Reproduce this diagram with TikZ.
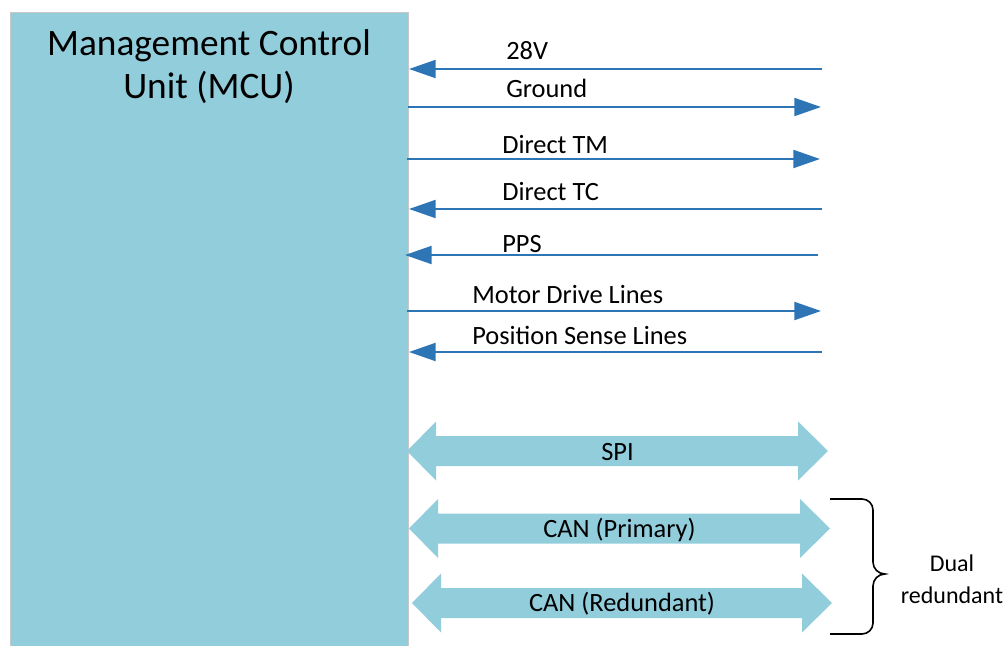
\documentclass[tikz,border=0pt]{standalone}
\usepackage{fontspec}
\setmainfont{Carlito}
\usetikzlibrary{arrows.meta}
\definecolor{mcufill}{HTML}{92CDDC}
\definecolor{sigblue}{HTML}{2E75B6}
\definecolor{boxedge}{HTML}{C8C8C8}
\tikzset{
  sig/.style={draw=sigblue, line width=1.5pt, -{Triangle[length=20pt,width=13.5pt]}},
  lbl/.style={font=\fontsize{19.8}{24}\selectfont, inner sep=0pt, anchor=base west},
  buslbl/.style={font=\fontsize{19.8}{24}\selectfont, inner sep=0pt},
  busfill/.style={fill=mcufill, draw=none},
  bracestyle/.style={draw=black, line width=1.2pt}
}
% fat bidirectional bus arrow: left tip x, right tip x, centre y, name, label
\newcommand{\busarrow}[5]{%
  \fill[busfill] (#1,#3) -- (#1+29,#3-29.5) -- (#1+29,#3-15) -- (#2-30,#3-15)
    -- (#2-30,#3-29.5) -- (#2,#3) -- (#2-30,#3+29.5) -- (#2-30,#3+15)
    -- (#1+29,#3+15) -- (#1+29,#3+29.5) -- cycle;
  \node[buslbl] (#4) at ({(#1+#2)/2},#3+1) {#5};%
}
\begin{document}
\begin{tikzpicture}[x=0.75pt,y=-0.75pt]
\clip (0,0) rectangle (1008,646);
\fill[white] (0,0) rectangle (1008,646);

% Management Control Unit block
\node[draw=boxedge, fill=mcufill, line width=0.8pt, inner sep=0pt,
      minimum width=298.5pt, minimum height=490pt, anchor=north west] (mcu) at (10,12) {};
\node[font=\fontsize{28}{32.25}\selectfont, align=center, inner sep=0pt] (mcutitle) at (209,67)
  {Management Control\\Unit (MCU)};

% discrete signal lines
\coordinate (v28a) at (822,69);  \coordinate (v28b) at (409,69);
\coordinate (gnda) at (408,107); \coordinate (gndb) at (821,107);
\coordinate (tma)  at (407,159); \coordinate (tmb)  at (820,159);
\coordinate (tca)  at (822,209); \coordinate (tcb)  at (409,209);
\coordinate (ppsa) at (818,255); \coordinate (ppsb) at (405,255);
\coordinate (mda)  at (407,311); \coordinate (mdb)  at (821,311);
\coordinate (psa)  at (822,352); \coordinate (psb)  at (409,352);

\draw[sig] (v28a) -- (v28b);
\draw[sig] (gnda) -- (gndb);
\draw[sig] (tma) -- (tmb);
\draw[sig] (tca) -- (tcb);
\draw[sig] (ppsa) -- (ppsb);
\draw[sig] (mda) -- (mdb);
\draw[sig] (psa) -- (psb);

\node[lbl] (l28v) at (506,59) {28V};
\node[lbl] (lgnd) at (506,97) {Ground};
\node[lbl] (ltm)  at (502,153) {Direct TM};
\node[lbl] (ltc)  at (502,200) {Direct TC};
\node[lbl] (lpps) at (502,252) {PPS};
\node[lbl] (lmd)  at (472,303) {Motor Drive Lines};
\node[lbl] (lps)  at (472,344) {Position Sense Lines};

% serial buses
\busarrow{407}{828}{451}{spi}{SPI}
\busarrow{409}{830}{528.5}{canp}{CAN (Primary)}
\busarrow{412}{832}{603}{canr}{CAN (Redundant)}

% brace grouping the two CAN buses
\coordinate (brtop) at (830,499);
\coordinate (brtip) at (885,574);
\coordinate (brbot) at (830,634);
\draw[bracestyle] (brtop) -- (862,499) to[out=0,in=90] (873,510) -- (873,562)
  to[out=-90,in=180] (brtip) to[out=180,in=90] (873,586) -- (873,623)
  to[out=-90,in=0] (862,634) -- (brbot);
\node[buslbl, align=center, font=\fontsize{18}{24}\selectfont] (dual) at (952,579) {Dual\\redundant};
\end{tikzpicture}
\end{document}
